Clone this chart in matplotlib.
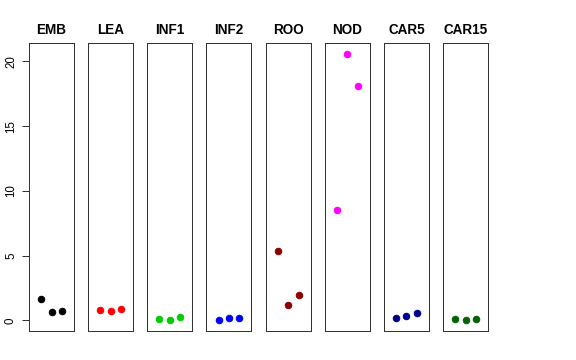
import matplotlib
matplotlib.use("Agg")
import matplotlib.pyplot as plt

plt.rcParams['font.family'] = ['Liberation Sans', 'DejaVu Sans']

# tissues and three replicate values per tissue
tissues = ["EMB", "LEA", "INF1", "INF2", "ROO", "NOD", "CAR5", "CAR15"]
colors = ["black", "red", "#00CD00", "blue", "#8B0000", "magenta", "#00008B", "#006400"]
reps = [1, 2, 3]
values = [
    [1.64, 0.62, 0.69],
    [0.82, 0.74, 0.87],
    [0.08, 0.00, 0.25],
    [0.05, 0.18, 0.15],
    [5.32, 1.20, 1.95],
    [8.53, 20.57, 18.13],
    [0.15, 0.31, 0.54],
    [0.10, 0.00, 0.10],
]
yticks = [0, 5, 10, 15, 20]

W, H = 576, 360
fig = plt.figure(figsize=(W / 72, H / 72), dpi=72)

left0, step, pw = 29, 59.15, 45
top, bottom = 43, 331

for i, (name, col, vals) in enumerate(zip(tissues, colors, values)):
    x0 = left0 + i * step
    ax = fig.add_axes([x0 / W, (H - bottom) / H, pw / W, (bottom - top) / H])
    ax.plot(reps, vals, 'o', color=col, ms=6.5, mec=col)
    ax.set_xlim(-0.16, 4.16)
    ax.set_ylim(-0.82, 21.42)
    ax.set_xticks([])
    for s in ax.spines.values():
        s.set_color('#333333')
        s.set_linewidth(1)
    ax.set_title(name, fontsize=13.5, fontweight='bold', pad=9)
    if i == 0:
        ax.set_yticks(yticks)
        ax.set_yticklabels([str(t) for t in yticks], rotation=90, va='center', fontsize=11.5)
        ax.tick_params(axis='y', length=7, width=1, color='#333333', pad=5)
    else:
        ax.set_yticks([])

fig.savefig("out.png", dpi=72)
